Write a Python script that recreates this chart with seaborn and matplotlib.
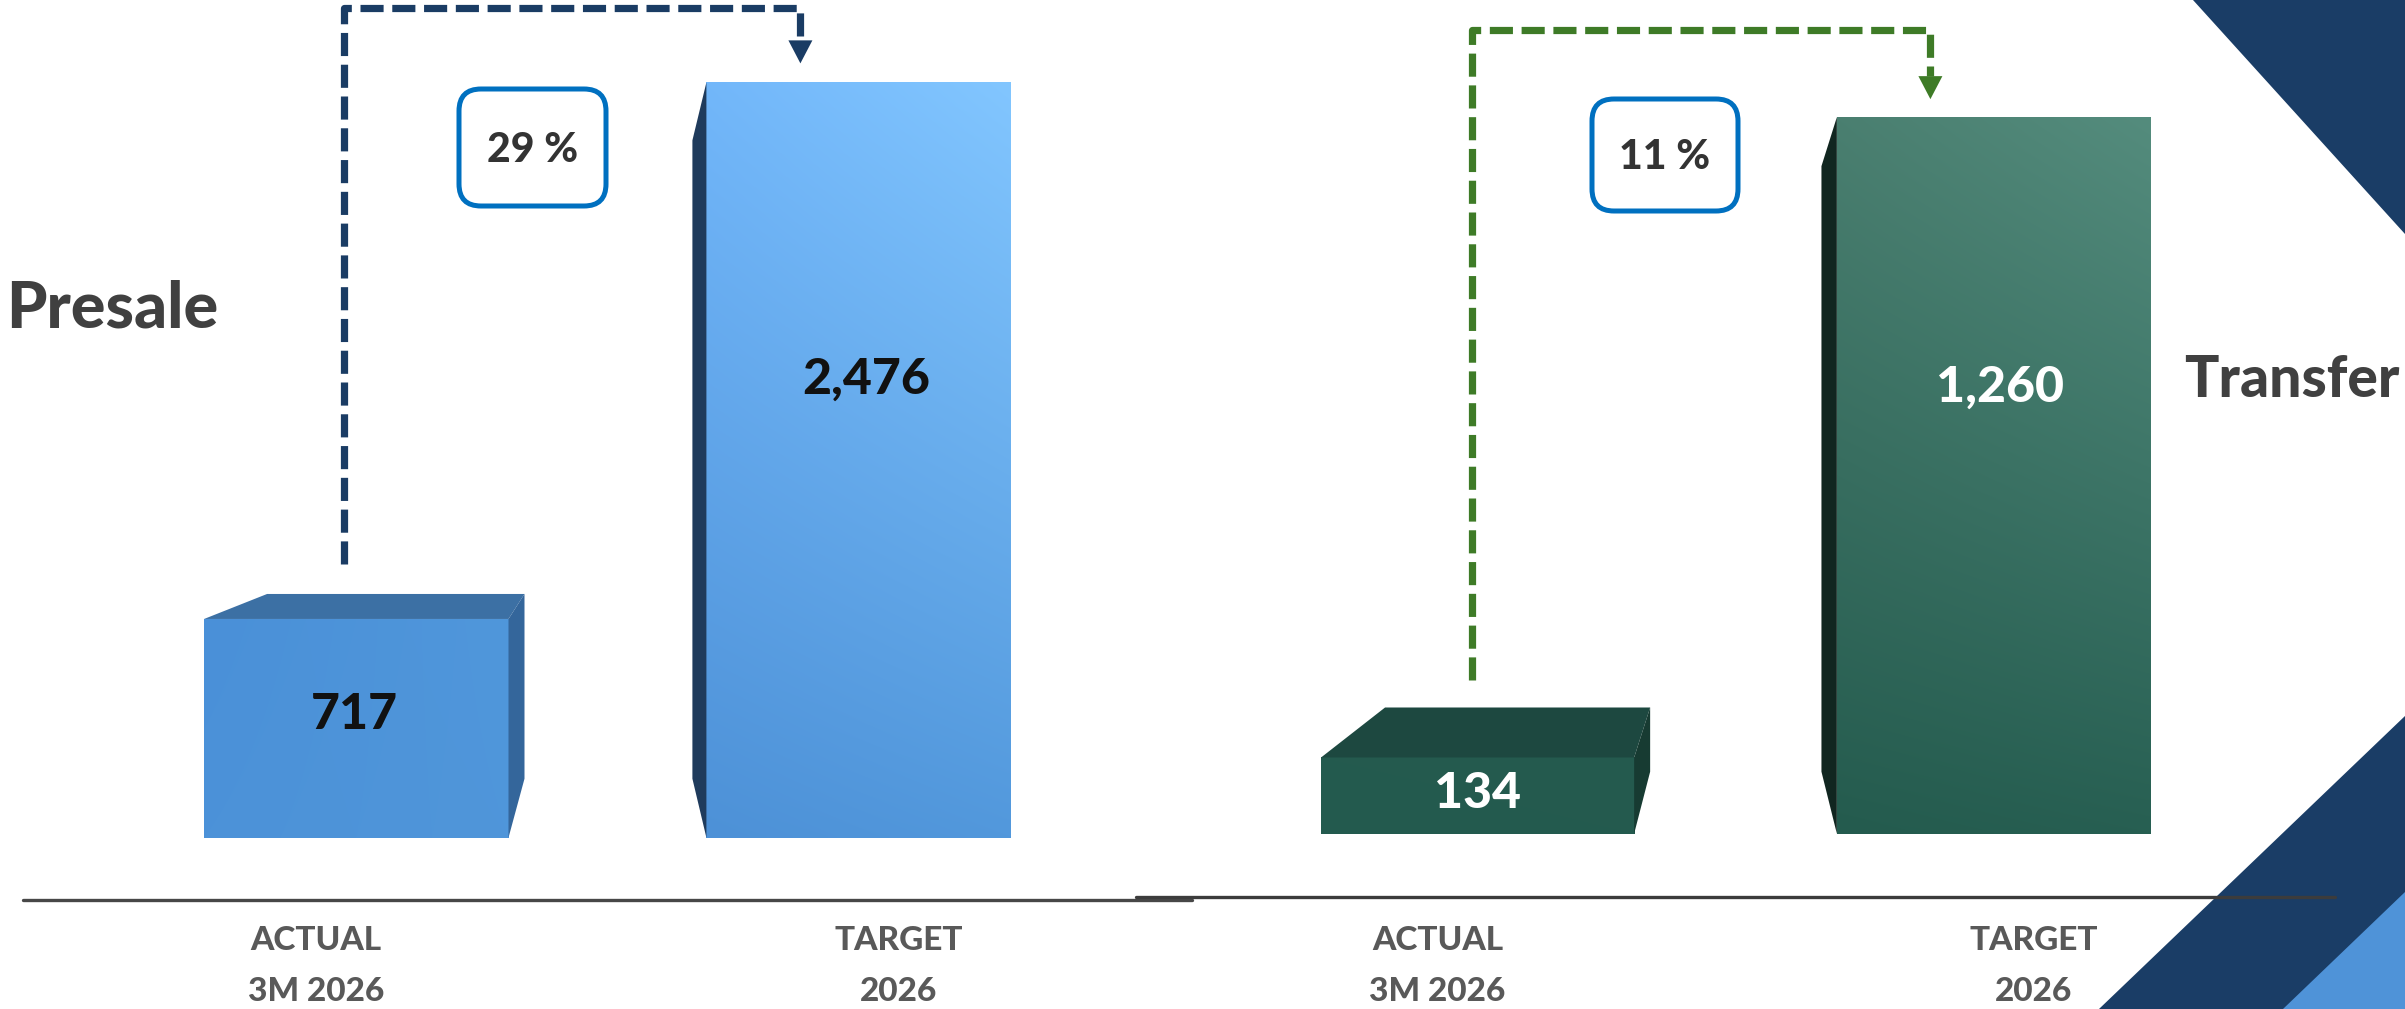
import numpy as np
import pandas as pd
import matplotlib
matplotlib.use("Agg")
import matplotlib.pyplot as plt
import seaborn as sns
from matplotlib.patches import Polygon, FancyBboxPatch
from matplotlib.colors import to_rgb

# ---------------- data ----------------
categories = ["ACTUAL\n3M 2026", "TARGET\n2026"]
presale_values = [717, 2476]
transfer_values = [134, 1260]
panel_titles = ["Presale", "Transfer"]

# ---------------- setup ----------------
W, H, DPI = 2405, 1009, 100
sns.set_theme(style="white")
plt.rcParams['font.family'] = ['Lato', 'DejaVu Sans']

fig = plt.figure(figsize=(W / DPI, H / DPI), dpi=DPI)
fig.patch.set_facecolor('white')

ov = fig.add_axes([0, 0, 1, 1], zorder=10)
ov.set_xlim(0, W)
ov.set_ylim(H, 0)
ov.set_axis_off()
ov.patch.set_alpha(0)


def grad(tl, tr, bl, br, n=200):
    tl, tr, bl, br = [np.array(to_rgb(c)) for c in (tl, tr, bl, br)]
    t = np.linspace(0, 1, n)[:, None, None]
    s = np.linspace(0, 1, n)[None, :, None]
    top = tl * (1 - s) + tr * s
    bot = bl * (1 - s) + br * s
    return top * (1 - t) + bot * t


def bar_px(ax, p):
    x0, x1 = p.get_x(), p.get_x() + p.get_width()
    y0, y1 = p.get_y(), p.get_y() + p.get_height()
    (a, b), (c, d) = ax.transData.transform([(x0, y0), (x1, y1)])
    return a, c, H - d, H - b  # left, right, top, bottom (px, y down)


def draw_panel(values, title, rect_px, base_px, centers_px, ymax, width,
               front_colors, grads, top_col, rside_col, lside_col,
               top_dxl, top_dxr, rise, taper, lside_dx, lside_drop,
               line_col, conn, box, val_col, val_pos, title_pos, title_size):
    xl, xr = rect_px
    ax = fig.add_axes([xl / W, 1 - base_px / H, (xr - xl) / W, base_px / H], zorder=2)
    df = pd.DataFrame({"category": categories, "value": values})
    sns.barplot(data=df, x="category", y="value", hue="category",
                palette=front_colors, width=width, saturation=1,
                legend=False, errorbar=None, linewidth=0, ax=ax)
    c0, c1 = centers_px
    unit = c1 - c0
    xlim = ((xl - c0) / unit, (xr - c0) / unit)
    ax.set_xlim(*xlim)
    ax.set_ylim(0, ymax)
    ax.set_axis_off()
    bars = list(ax.patches)
    for p, g in zip(bars, grads):
        im = ax.imshow(grad(*g), extent=[p.get_x(), p.get_x() + p.get_width(),
                                          0, p.get_height()],
                       aspect='auto', origin='upper', zorder=3, interpolation='bilinear')
        im.set_clip_path(p)
    ax.set_xlim(*xlim)
    ax.set_ylim(0, ymax)

    # 3D faces on actual bar
    L, R, T, B = bar_px(ax, bars[0])
    ov.add_patch(Polygon([(L, T), (L + top_dxl, T - rise), (R + top_dxr, T - rise), (R, T)],
                         closed=True, fc=top_col, ec='none', zorder=2))
    ov.add_patch(Polygon([(R, T), (R + top_dxr, T - rise), (R + top_dxr, B - taper), (R, B)],
                         closed=True, fc=rside_col, ec='none', zorder=2))
    act_c = (L + R) / 2
    act_top = T - rise
    # left side on target bar
    L2, R2, T2, B2 = bar_px(ax, bars[1])
    ov.add_patch(Polygon([(L2, T2), (L2 - lside_dx, T2 + lside_drop),
                          (L2 - lside_dx, B2 - taper), (L2, B2)],
                         closed=True, fc=lside_col, ec='none', zorder=2))
    tgt_c = (L2 + R2) / 2

    # value labels
    for (lx, ly), v, col in zip(val_pos, values, val_col):
        ov.text(lx, ly, f"{v:,}", ha='center', va='baseline', fontsize=36,
                fontweight='black', color=col, zorder=6)

    # dashed connector
    cx_off, top_y, ax_off, tip_gap, gap_bottom = conn
    vx = act_c + cx_off
    arx = tgt_c + ax_off
    tip_y = T2 - tip_gap
    head_top = tip_y - 23
    ov.plot([vx, vx, arx, arx], [act_top - gap_bottom, top_y, top_y, head_top],
            color=line_col, lw=5.2, dashes=(3.2, 1.2), solid_capstyle='butt',
            dash_capstyle='butt', zorder=4)
    ov.add_patch(Polygon([(arx - 12, head_top), (arx + 12, head_top), (arx, tip_y)],
                         closed=True, fc=line_col, ec='none', zorder=4))

    # percentage box
    bx, by, bw, bh = box
    ov.add_patch(FancyBboxPatch((bx, by), bw, bh,
                                boxstyle="round,pad=0,rounding_size=22",
                                fc='white', ec='#0070C0', lw=3.6, zorder=5))
    pct = round(values[0] / values[1] * 100)
    ov.text(bx + bw / 2, by + bh / 2 + 14, f"{pct} %", ha='center', va='baseline',
            fontsize=29.5, fontweight='black', color='#333333', zorder=6)

    # title
    ov.text(title_pos[0], title_pos[1], title, ha='left', va='baseline',
            fontsize=title_size, fontweight='black', color='#404040', zorder=6)

    # category labels
    for c, lx in zip(categories, [act_c - 40, tgt_c + 40]):
        l1, l2 = c.split("\n")
        ov.text(lx, 950, l1, ha='center', va='baseline', fontsize=24,
                fontweight='black', color='#595959', zorder=6)
        ov.text(lx, 1001, l2, ha='center', va='baseline', fontsize=24,
                fontweight='black', color='#595959', zorder=6)


# decorative background triangles
ov.add_patch(Polygon([(2193, 0), (W, 0), (W, 234)], closed=True, fc='#1A3D66', ec='none', zorder=1))
ov.add_patch(Polygon([(2099, H), (W, 716), (W, H)], closed=True, fc='#1A3D66', ec='none', zorder=1))
ov.add_patch(Polygon([(2283, H), (W, 892), (W, H)], closed=True, fc='#4F93D8', ec='none', zorder=1))

# baselines
ov.plot([23, 1192], [900, 900], color='#474747', lw=2.4, solid_capstyle='round', zorder=3)
ov.plot([1136, 2335], [897, 897], color='#3C3C3C', lw=2.4, solid_capstyle='round', zorder=3)

draw_panel(presale_values, panel_titles[0], rect_px=(0, 1202.5), base_px=837.7,
           centers_px=(356.3, 858.6), ymax=2746, width=0.606,
           front_colors=['#4E94DA', '#62A8EE'],
           grads=[('#4A90D8', '#5097DB', '#4C92D8', '#5096DA'),
                  ('#72B7FA', '#82C6FF', '#4D91D7', '#5298DC')],
           top_col='#3C70A4', rside_col='#34669B', lside_col='#1F3B5C',
           top_dxl=63, top_dxr=16, rise=25, taper=59, lside_dx=14, lside_drop=58,
           line_col='#1A3C64', conn=(-12.4, 7.5, -58.2, 19, 30),
           box=(459, 89, 147, 117), val_col=['#111111', '#111111'],
           val_pos=[(354, 729), (866, 394)], title_pos=(6, 328), title_size=46.5)

draw_panel(transfer_values, panel_titles[1], rect_px=(1202.5, W), base_px=833.7,
           centers_px=(1477.6, 1993.4), ymax=1466, width=0.607,
           front_colors=['#245A4E', '#386F61'],
           grads=[('#245A4E', '#255B4F', '#235A4E', '#245B4F'),
                  ('#4A7F70', '#548C7D', '#245B4E', '#275F52')],
           top_col='#1D4840', rside_col='#173B32', lside_col='#112620',
           top_dxl=64, top_dxr=16, rise=50, taper=62, lside_dx=15.4, lside_drop=49,
           line_col='#3E7B27', conn=(-5.6, 30, -63, 18, 27),
           box=(1592, 99, 146, 112), val_col=['#FFFFFF', '#FFFFFF'],
           val_pos=[(1477.6, 808), (2000, 402)], title_pos=(2184, 397), title_size=41)

fig.savefig("out.png", dpi=DPI, facecolor='white')
